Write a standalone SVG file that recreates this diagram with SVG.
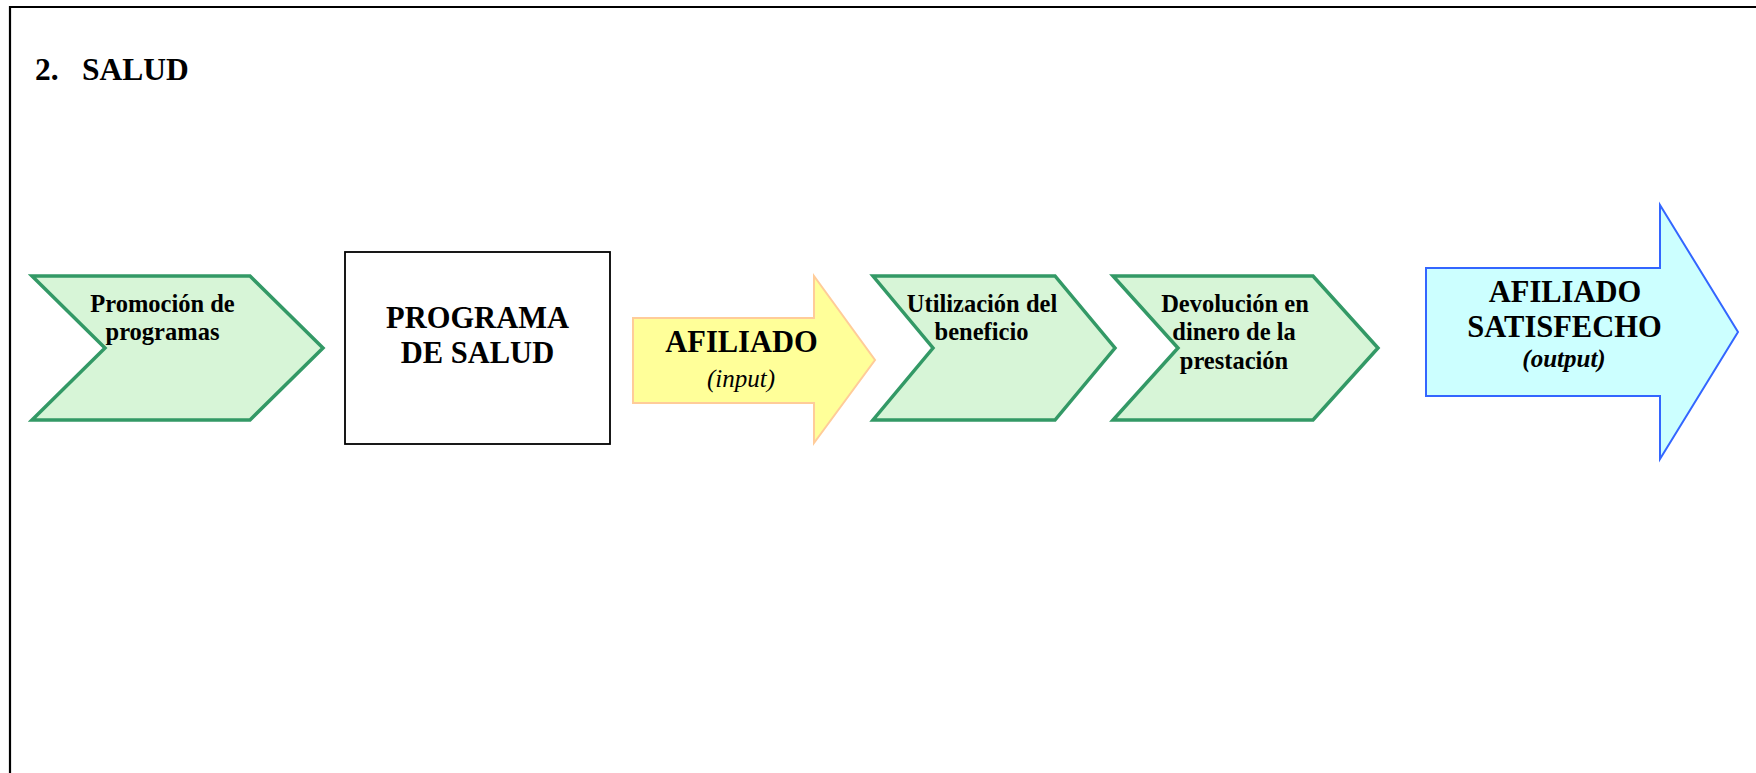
<svg xmlns="http://www.w3.org/2000/svg" width="1756" height="773" viewBox="0 0 1756 773">
<style>
text{font-family:"Liberation Serif","Times New Roman",serif;font-weight:bold;fill:#000}
.chev{fill:#d7f5d7;stroke:#339966;stroke-width:3.5;stroke-linejoin:miter}
.t24{font-size:24.5px}
.t30{font-size:30.5px}
.mid{text-anchor:middle}
.ital{font-style:italic;font-size:25px}
.normal{font-weight:normal}
</style>
<rect x="0" y="0" width="1756" height="773" fill="#ffffff"/>
<g id="frame">
<path d="M10,790 L10,7 L1770,7" fill="none" stroke="#000" stroke-width="2.2"/>
</g>
<g id="title">
<text x="35" y="80" font-size="31.5px">2.</text>
<text x="82" y="80" font-size="31.5px">SALUD</text>
</g>
<g id="connectors"></g>
<g id="promocion">
<polygon class="chev" points="32,276 250,276 323,348 250,420 32,420 105,348"/>
<text class="t24 mid" x="162.5" y="311.5">Promoción de</text>
<text class="t24 mid" x="162.5" y="340">programas</text>
</g>
<g id="programa">
<rect x="345" y="252" width="265" height="192" fill="#fff" stroke="#000" stroke-width="1.8"/>
<text class="t30 mid" x="477.5" y="328">PROGRAMA</text>
<text class="t30 mid" x="477.5" y="362.5">DE SALUD</text>
</g>
<g id="afiliado-input">
<polygon points="633,318 814,318 814,276 875,360 814,443 814,403 633,403" fill="#ffff99" stroke="#ffcc99" stroke-width="2"/>
<text class="t30 mid" x="741.5" y="351.5">AFILIADO</text>
<text class="mid ital normal" x="741" y="386.5">(input)</text>
</g>
<g id="utilizacion">
<polygon class="chev" points="873,276 1055,276 1115,348 1055,420 873,420 933,348"/>
<text class="t24 mid" x="982" y="311.5">Utilización del</text>
<text class="t24 mid" x="981.5" y="340">beneficio</text>
</g>
<g id="devolucion">
<polygon class="chev" points="1113,276 1313,276 1378,348 1313,420 1113,420 1178,348"/>
<text class="t24 mid" x="1235" y="311.5">Devolución en</text>
<text class="t24 mid" x="1234" y="340">dinero de la</text>
<text class="t24 mid" x="1234" y="368.5">prestación</text>
</g>
<g id="afiliado-output">
<polygon points="1426,268 1660,268 1660,205 1738,332 1660,459 1660,396 1426,396" fill="#ccffff" stroke="#3366ff" stroke-width="2"/>
<text class="t30 mid" x="1565" y="301.5">AFILIADO</text>
<text class="t30 mid" x="1564.5" y="336.5">SATISFECHO</text>
<text class="mid ital" x="1564" y="366.5">(output)</text>
</g>
</svg>
